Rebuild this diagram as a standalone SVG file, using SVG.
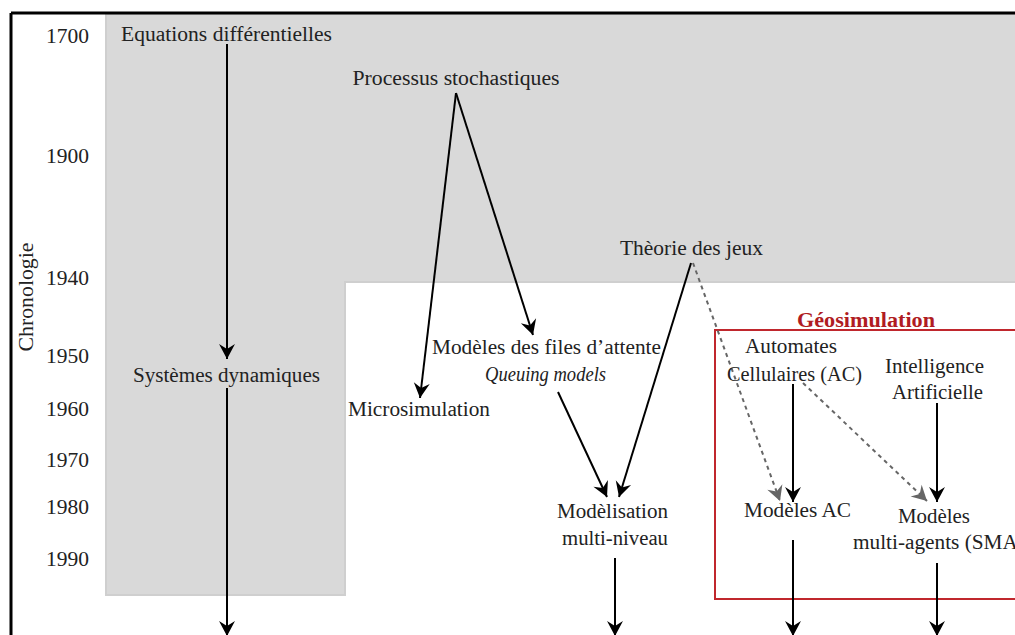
<svg xmlns="http://www.w3.org/2000/svg" width="1015" height="635" viewBox="0 0 1015 635" font-family="'Liberation Serif', 'Times New Roman', Times, serif">
<style>
text{font-family:'Liberation Serif','Times New Roman',Times,serif;font-size:20px;fill:#222;}
.yr{text-anchor:end;}
.c{text-anchor:middle;}
.ln{stroke:#000;stroke-width:2;fill:none;}
.ds{stroke:#666;stroke-width:2;fill:none;stroke-dasharray:4 4;}
</style>
<defs>
<marker id="ah" viewBox="-16 -9 17 18" refX="0" refY="0" markerWidth="17" markerHeight="18" markerUnits="userSpaceOnUse" orient="auto">
<path d="M0 0 L-15 -8 L-10 0 L-15 8 Z" fill="#000"/>
</marker>
<marker id="ahg" viewBox="-16 -9 17 18" refX="0" refY="0" markerWidth="17" markerHeight="18" markerUnits="userSpaceOnUse" orient="auto">
<path d="M0 0 L-15 -8 L-10 0 L-15 8 Z" fill="#666"/>
</marker>
</defs>
<rect x="0" y="0" width="1015" height="635" fill="#fff"/>
<g id="background">
<path d="M106 14 L1016 14 L1016 282 L345 282 L345 595 L106 595 Z" fill="#d9d9d9" stroke="#cfcfcf" stroke-width="2"/>
<path d="M11 13 L1015 13 M11 13 L11 635" stroke="#000" stroke-width="3" fill="none"/>
</g>
<g id="timeline">
<text x="89" y="43" class="yr" textLength="43" lengthAdjust="spacingAndGlyphs">1700</text>
<text x="89" y="163" class="yr" textLength="43" lengthAdjust="spacingAndGlyphs">1900</text>
<text x="89" y="285" class="yr" textLength="43" lengthAdjust="spacingAndGlyphs">1940</text>
<text x="89" y="363" class="yr" textLength="43" lengthAdjust="spacingAndGlyphs">1950</text>
<text x="89" y="416" class="yr" textLength="43" lengthAdjust="spacingAndGlyphs">1960</text>
<text x="89" y="467" class="yr" textLength="43" lengthAdjust="spacingAndGlyphs">1970</text>
<text x="89" y="514" class="yr" textLength="43" lengthAdjust="spacingAndGlyphs">1980</text>
<text x="89" y="566" class="yr" textLength="43" lengthAdjust="spacingAndGlyphs">1990</text>
<text transform="translate(33 297) rotate(-90)" class="c" textLength="109" lengthAdjust="spacingAndGlyphs">Chronologie</text>
</g>
<g id="geosimulation">
<rect x="715" y="330" width="310" height="269" fill="none" stroke="#c0272d" stroke-width="2"/>
<text x="866" y="327" class="c" style="fill:#b01c22;font-weight:bold" textLength="138" lengthAdjust="spacingAndGlyphs">Géosimulation</text>
</g>
<g id="connectors">
<line x1="227" y1="44" x2="227" y2="359" class="ln" marker-end="url(#ah)"/>
<line x1="227" y1="388" x2="227" y2="636" class="ln" marker-end="url(#ah)"/>
<line x1="456" y1="93" x2="420" y2="398" class="ln" marker-end="url(#ah)"/>
<line x1="456" y1="93" x2="533" y2="335" class="ln" marker-end="url(#ah)"/>
<line x1="558" y1="392" x2="607" y2="497" class="ln" marker-end="url(#ah)"/>
<line x1="691" y1="263" x2="619" y2="497" class="ln" marker-end="url(#ah)"/>
<line x1="615" y1="558" x2="615" y2="636" class="ln" marker-end="url(#ah)"/>
<line x1="693" y1="263" x2="780" y2="501" class="ds" marker-end="url(#ahg)"/>
<line x1="803" y1="383" x2="927" y2="501" class="ds" marker-end="url(#ahg)"/>
<line x1="793" y1="384" x2="793" y2="502" class="ln" marker-end="url(#ah)"/>
<line x1="937" y1="403" x2="937" y2="502" class="ln" marker-end="url(#ah)"/>
<line x1="793" y1="540" x2="793" y2="636" class="ln" marker-end="url(#ah)"/>
<line x1="937" y1="563" x2="937" y2="636" class="ln" marker-end="url(#ah)"/>
</g>
<g id="equations"><text x="226.5" y="41" class="c" textLength="211" lengthAdjust="spacingAndGlyphs">Equations différentielles</text></g>
<g id="processus"><text x="456" y="85" class="c" textLength="207" lengthAdjust="spacingAndGlyphs">Processus stochastiques</text></g>
<g id="systemes"><text x="226.5" y="382" class="c" textLength="187" lengthAdjust="spacingAndGlyphs">Systèmes dynamiques</text></g>
<g id="theorie"><text x="691.5" y="255" class="c" textLength="143" lengthAdjust="spacingAndGlyphs">Thèorie des jeux</text></g>
<g id="microsimulation"><text x="419" y="416" class="c" textLength="142" lengthAdjust="spacingAndGlyphs">Microsimulation</text></g>
<g id="files"><text x="546.5" y="354" class="c" textLength="229" lengthAdjust="spacingAndGlyphs">Modèles des files d’attente</text><text x="545.5" y="381" class="c" style="font-style:italic" textLength="121" lengthAdjust="spacingAndGlyphs">Queuing models</text></g>
<g id="multiniveau"><text x="612.5" y="518" class="c" textLength="111" lengthAdjust="spacingAndGlyphs">Modèlisation</text><text x="615" y="545" class="c" textLength="106" lengthAdjust="spacingAndGlyphs">multi-niveau</text></g>
<g id="automates"><text x="791" y="353" class="c" textLength="92" lengthAdjust="spacingAndGlyphs">Automates</text><text x="794.5" y="381" class="c" textLength="135" lengthAdjust="spacingAndGlyphs">Cellulaires (AC)</text></g>
<g id="ia"><text x="934.5" y="373" class="c" textLength="99" lengthAdjust="spacingAndGlyphs">Intelligence</text><text x="937.5" y="399" class="c" textLength="91" lengthAdjust="spacingAndGlyphs">Artificielle</text></g>
<g id="modelesac"><text x="797.5" y="517" class="c" textLength="107" lengthAdjust="spacingAndGlyphs">Modèles AC</text></g>
<g id="sma"><text x="934" y="523" class="c" textLength="72" lengthAdjust="spacingAndGlyphs">Modèles</text><text x="853" y="549" textLength="172" lengthAdjust="spacingAndGlyphs">multi-agents (SMA)</text></g>
</svg>
